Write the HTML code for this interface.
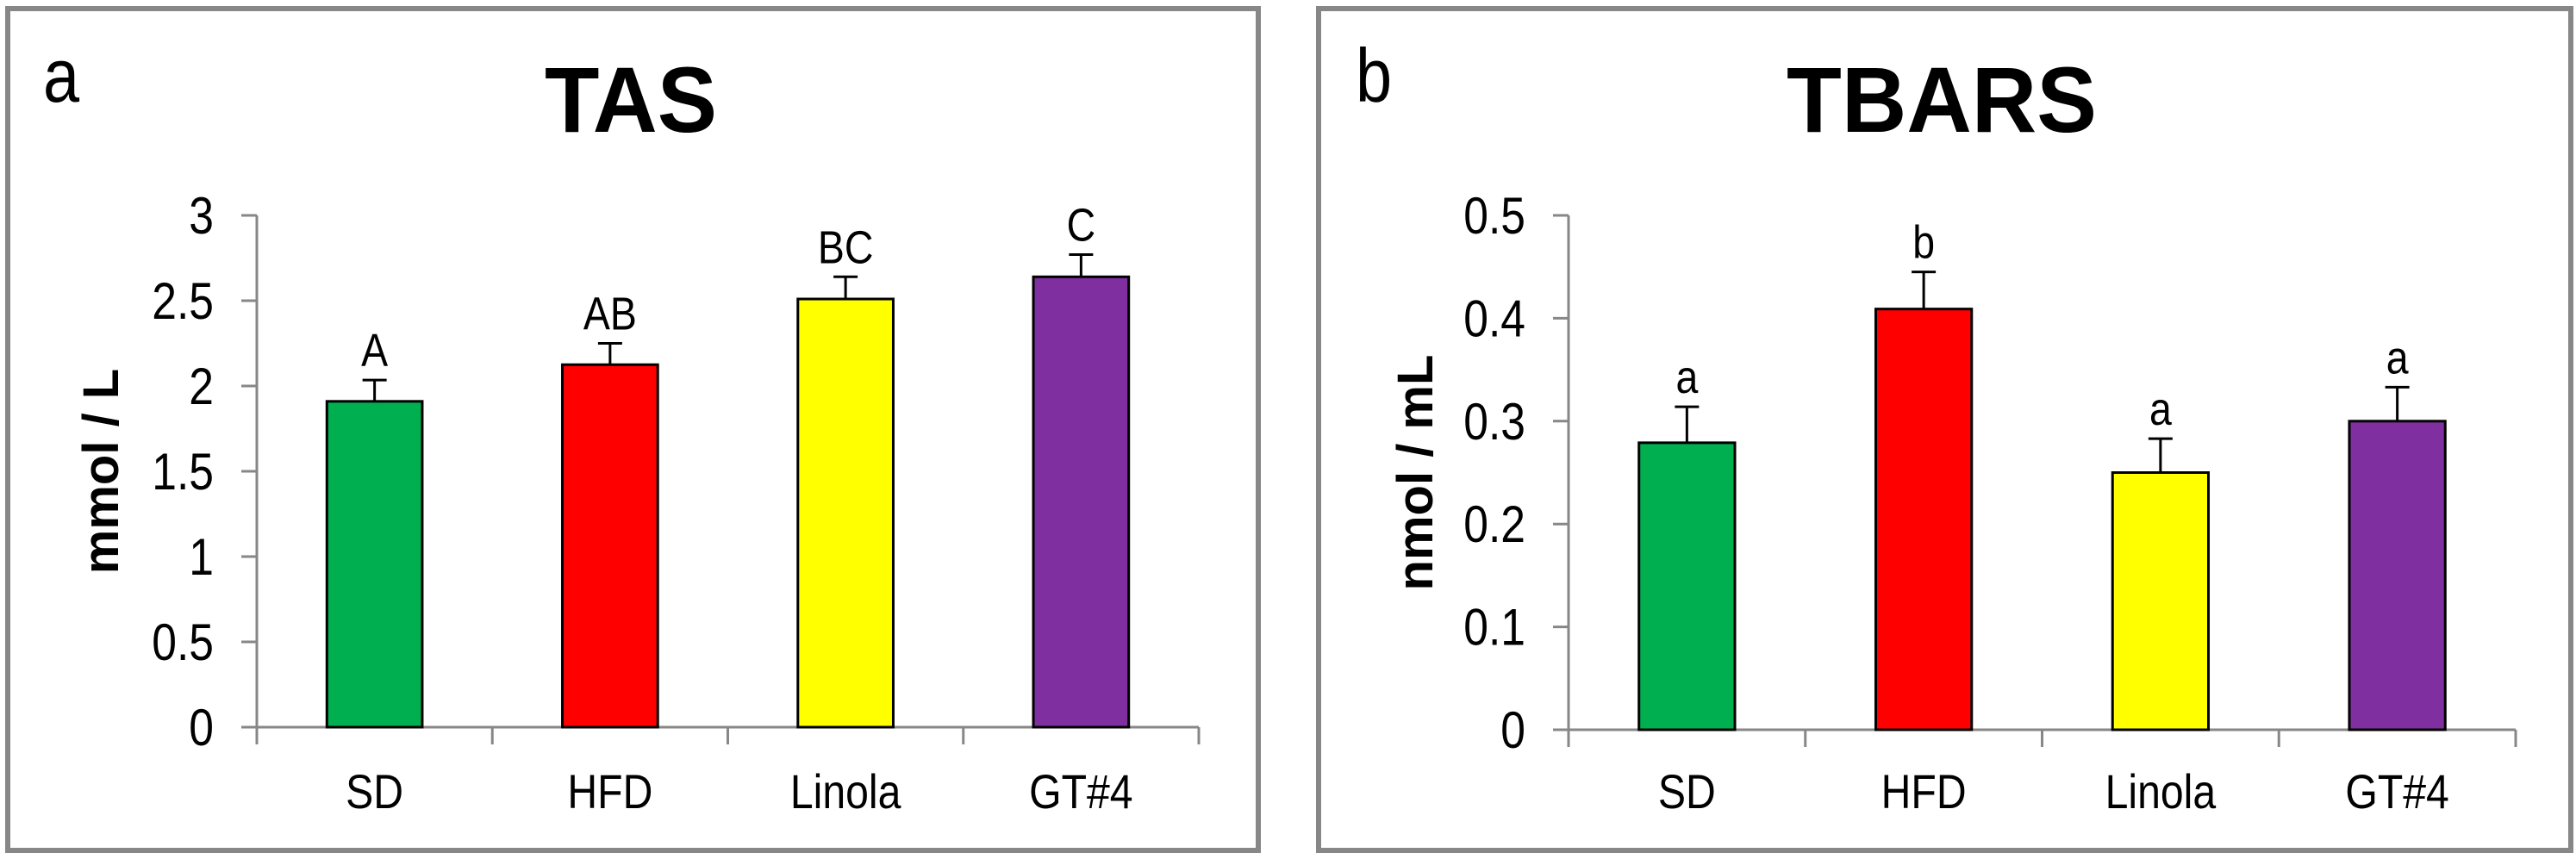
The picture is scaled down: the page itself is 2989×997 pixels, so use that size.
<!DOCTYPE html>
<html><head><meta charset="utf-8"><style>
html,body{margin:0;padding:0;background:#fff;}
svg{display:block;font-family:"Liberation Sans",Arial,sans-serif;}
</style></head><body>
<svg id="chart" width="2989" height="997" viewBox="0 0 2989 997" xmlns="http://www.w3.org/2000/svg">
<rect x="9" y="10" width="1451" height="977" fill="#fff" stroke="#878787" stroke-width="6"/>
<rect x="1530" y="10" width="1453" height="977" fill="#fff" stroke="#878787" stroke-width="6"/>
<g id="gA"></g>
<g id="gB"></g>
</svg>
<script>
const categories = ["SD", "HFD", "Linola", "GT#4"];
const colors = ["#00b050", "#ff0000", "#ffff00", "#7f2fa0"];
const tasValues = [1.91, 2.125, 2.51, 2.64];
const tasErrors = [0.125, 0.125, 0.13, 0.13];
const tasLetters = ["A", "AB", "BC", "C"];
const tasTicks = ["0", "0.5", "1", "1.5", "2", "2.5", "3"];
const tbarsValues = [0.279, 0.409, 0.25, 0.3];
const tbarsErrors = [0.035, 0.036, 0.033, 0.033];
const tbarsLetters = ["a", "b", "a", "a"];
const tbarsTicks = ["0", "0.1", "0.2", "0.3", "0.4", "0.5"];

const NS = "http://www.w3.org/2000/svg";
function mk(parent, tag, attrs, text) {
  const e = document.createElementNS(NS, tag);
  for (const k in attrs) e.setAttribute(k, attrs[k]);
  if (text !== undefined) e.textContent = text;
  parent.appendChild(e);
  return e;
}
// narrow text: placed at (x,y) and horizontally compressed
function ntext(parent, x, y, size, anchor, str) {
  return mk(parent, "text", {x: 0, y: 0, "font-size": size, "text-anchor": anchor, transform: `translate(${x} ${y}) scale(0.86 1)`}, str);
}

function drawPanel(g, cfg) {
  const x0 = cfg.x0, x1 = cfg.x1, yTop = 250, yBot = cfg.yBot;
  const max = cfg.max;
  const yScale = v => yBot - (v / max) * (yBot - yTop);
  const band = (x1 - x0) / categories.length;
  const xCenter = i => x0 + band * (i + 0.5);

  let t = ntext(g, cfg.labelX, 118, 88, "start", cfg.label);
  
  
  t = mk(g, "text", {x: cfg.titleX, y: 153, "font-size": 108, "font-weight": "bold", "text-anchor": "middle", textLength: cfg.titleLen, lengthAdjust: "spacingAndGlyphs"}, cfg.title);
  
  
  const ymid = (yTop + yBot) / 2;
  t = mk(g, "text", {x: cfg.ytX, y: ymid, "font-size": 58, "font-weight": "bold", "text-anchor": "middle", transform: `rotate(-90 ${cfg.ytX} ${ymid})`}, cfg.yTitle);
  
  

  let a = mk(g, "line", {x1: x0, y1: yTop, x2: x0, y2: yBot, stroke: "#878787", "stroke-width": 3});
  
  
  a = mk(g, "line", {x1: x0, y1: yBot, x2: x1, y2: yBot, stroke: "#878787", "stroke-width": 3});
  
  

  cfg.ticks.forEach(lbl => {
    const y = yScale(parseFloat(lbl));
    const tk = mk(g, "line", {x1: x0 - 18, y1: y, x2: x0, y2: y, stroke: "#878787", "stroke-width": 3});
    
    
    const tl = ntext(g, x0 - 50, y + 21, 60, "end", lbl);
    
    
  });
  for (let i = 0; i <= categories.length; i++) {
    const x = x0 + band * i;
    const tk = mk(g, "line", {x1: x, y1: yBot, x2: x, y2: yBot + 20, stroke: "#878787", "stroke-width": 3});
    
    
  }
  const bw = band * 0.405;
  categories.forEach((c, i) => {
    const xc = xCenter(i);
    const v = cfg.values[i], e = cfg.errors[i];
    const yv = yScale(v), ye = yScale(v + e);
    const el = mk(g, "line", {x1: xc, y1: yv, x2: xc, y2: ye, stroke: "#000", "stroke-width": 3});
    
    
    const cap = mk(g, "line", {x1: xc - 14, y1: ye, x2: xc + 14, y2: ye, stroke: "#000", "stroke-width": 3});
    
    
    const r = mk(g, "rect", {x: xc - bw / 2, y: yv, width: bw, height: yBot - yv, fill: colors[i], stroke: "#000", "stroke-width": 3});
    
    
    const lt = ntext(g, xc, ye - 16, 54, "middle", cfg.letters[i]);
    
    
    const cl = ntext(g, xc, 938, 56, "middle", c);
    
    
  });
}

drawPanel(document.getElementById("gA"), {
  x0: 298, x1: 1391, yBot: 844, max: 3, label: "a", labelX: 50, title: "TAS", titleX: 732, titleLen: 200,
  yTitle: "mmol / L", ytX: 137, ticks: tasTicks, values: tasValues, errors: tasErrors, letters: tasLetters
});
drawPanel(document.getElementById("gB"), {
  x0: 1820, x1: 2919, yBot: 847, max: 0.5, label: "b", labelX: 1573, title: "TBARS", titleX: 2253, titleLen: 360,
  yTitle: "nmol / mL", ytX: 1662, ticks: tbarsTicks, values: tbarsValues, errors: tbarsErrors, letters: tbarsLetters
});
</script>
</body></html>
